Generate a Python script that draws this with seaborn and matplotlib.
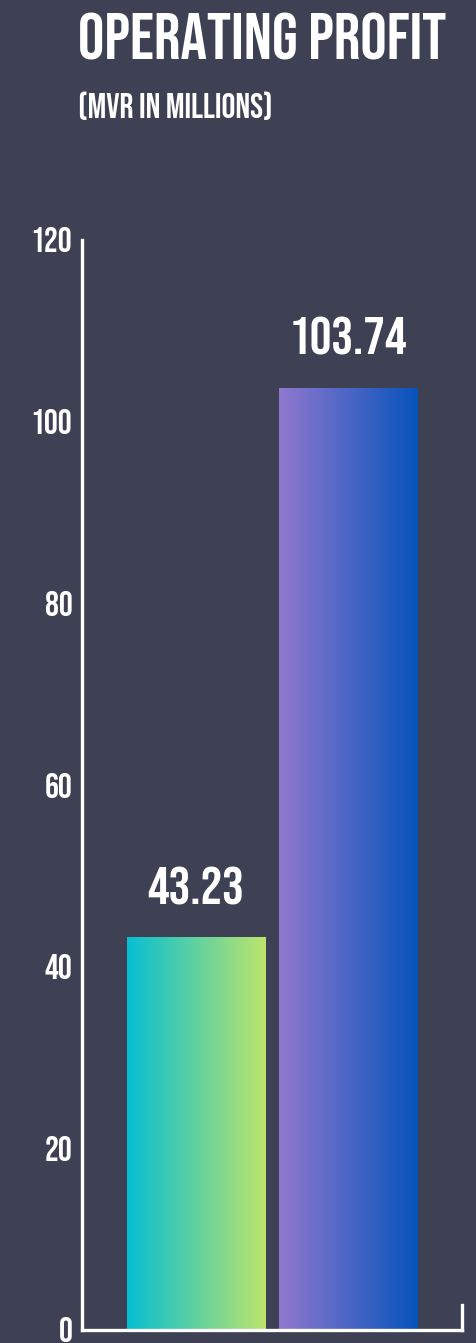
import numpy as np
import pandas as pd
import matplotlib
matplotlib.use("Agg")
import matplotlib.pyplot as plt
import seaborn as sns
from matplotlib.colors import LinearSegmentedColormap
from matplotlib import font_manager as fm

# ---- data ----
categories = ["Year 1", "Year 2"]
values = [43.23, 103.74]
value_labels = ["43.23", "103.74"]
y_ticks = [0, 20, 40, 60, 80, 100, 120]
title = "OPERATING PROFIT"
subtitle = "(MVR IN MILLIONS)"

grad_colors = [("#06bfd2", "#bde46c"), ("#9178cf", "#0653bb")]
BG = "#3e4054"

sns.set_theme(style="white")
names = {f.name for f in fm.fontManager.ttflist}
fam = "DejaVu Sans"
for cand in ["Bebas", "Bebas Neue", "Oswald", "Roboto Condensed", "Archivo Narrow"]:
    if cand in names:
        fam = cand
        break
plt.rcParams["font.family"] = [fam, "DejaVu Sans"]
W = "normal" if fam.startswith("Bebas") else "bold"

fig = plt.figure(figsize=(4.76, 13.43), dpi=100, facecolor=BG)
ax = fig.add_axes([82/476, 1 - 1330/1343, (462 - 82)/476, (1330 - 240)/1343])
ax.set_facecolor("none")

df = pd.DataFrame({"cat": categories, "val": values})
sns.barplot(data=df, x="cat", y="val", ax=ax, width=0.908, color="white",
            saturation=1, errorbar=None)

ax.set_xlim(-0.75, 1.75)
ax.set_ylim(0, 120)

# gradient fill for bars
for patch, (c0, c1), lab in zip(ax.patches, grad_colors, value_labels):
    x0, y0 = patch.get_x(), patch.get_y()
    w, h = patch.get_width(), patch.get_height()
    cmap = LinearSegmentedColormap.from_list("g", [c0, c1])
    grad = np.linspace(0, 1, 256).reshape(1, -1)
    im = ax.imshow(grad, cmap=cmap, extent=[x0, x0 + w, y0, y0 + h],
                   aspect="auto", origin="lower", zorder=patch.get_zorder())
    im.set_clip_path(patch)
    patch.set_facecolor("none")
    patch.set_edgecolor("none")
    ax.text(x0 + w / 2, y0 + h + 3.6, lab, ha="center", va="baseline",
            color="white", fontsize=39, fontweight=W)

ax.set_aspect("auto")
ax.set_xlim(-0.75, 1.75)
ax.set_ylim(0, 120)

# axes styling
ax.spines["top"].set_visible(False)
for s in ["left", "bottom", "right"]:
    ax.spines[s].set_color("white")
    ax.spines[s].set_linewidth(2.4)
ax.spines["right"].set_bounds(0, 2.8)
ax.set_yticks(y_ticks)
ax.set_yticklabels([str(t) for t in y_ticks])
ax.tick_params(axis="y", direction="in", length=6.5, width=2.2, color="white",
               labelcolor="white", labelsize=25, pad=7)
for t in ax.get_yticklabels():
    t.set_fontweight(W)
ax.set_xticks([])
ax.set_xlabel("")
ax.set_ylabel("")

fig.text(78/476, 1 - 60/1343, title, color="white", fontsize=47.5,
         fontweight=W, ha="left", va="baseline")
fig.text(78/476, 1 - 118/1343, subtitle, color="white", fontsize=25,
         fontweight=W, ha="left", va="baseline")

fig.savefig("out.png", dpi=100, facecolor=BG)
